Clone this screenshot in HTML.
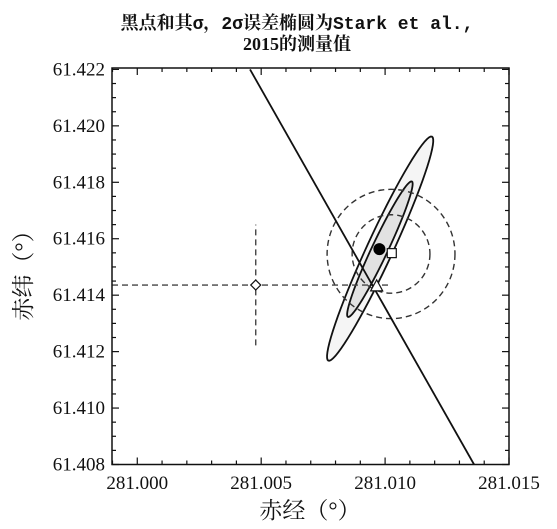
<!DOCTYPE html>
<html><head><meta charset="utf-8"><style>
html,body{margin:0;padding:0;background:#fff;}
svg{display:block;}
text{font-family:"Liberation Serif","Noto Serif CJK SC",serif;fill:#111;}
</style></head><body>
<svg id="chart" width="557" height="529" viewBox="0 0 557 529" xmlns="http://www.w3.org/2000/svg">
<text x="297" y="29" font-size="18" text-anchor="middle" font-weight="bold" style="font-family:'Liberation Mono','Noto Serif CJK SC',serif">黑点和其σ，2σ误差椭圆为Stark et al.,</text>
<text x="297" y="50" font-size="18" text-anchor="middle" font-weight="bold">2015的测量值</text>
<g id="plot"></g>
<text x="310" y="518" font-size="23" text-anchor="middle">赤经（°）</text>
<text transform="translate(31,270) rotate(-90)" font-size="23" text-anchor="middle">赤纬（°）</text>
</svg>
<script>
const xTicks=[281.000,281.005,281.010,281.015];
const xTickLabels=["281.000","281.005","281.010","281.015"];
const yTicks=[61.408,61.410,61.412,61.414,61.416,61.418,61.420,61.422];
const yTickLabels=["61.408","61.410","61.412","61.414","61.416","61.418","61.420","61.422"];
const xDomain=[280.99898,281.015];
const yDomain=[61.408,61.42205];
const lineX=[281.00455,281.01359];
const lineY=[61.42200,61.40800];
const outerEllipse=[281.0098,61.41565,281.01189,61.41962];
const innerEllipse=[281.00979,61.41563,281.01108,61.41803];
const circleCenter=[281.01024,61.41546];
const circleRx=[0.00258,0.00157];
const circleRy=[0.00229,0.00139];
const dotPoint=[281.00977,61.41563];
const squarePoint=[281.01027,61.41549];
const trianglePoint=[281.00966,61.41433];
const diamondPoint=[281.00478,61.41436];
const diamondErrY=[61.41222,61.41650];
const diamondErrXEnd=281.0102;

const L=112,R=509,T=68,B=464.5;
const sx=v=>L+(v-xDomain[0])/(xDomain[1]-xDomain[0])*(R-L);
const sy=v=>B-(v-yDomain[0])/(yDomain[1]-yDomain[0])*(B-T);
const NS="http://www.w3.org/2000/svg";
const svg=document.getElementById('chart');
const plot=document.getElementById('plot');
function mk(tag,attrs,parent){const e=document.createElementNS(NS,tag);for(const k in attrs)e.setAttribute(k,attrs[k]);(parent||plot).appendChild(e);return e;}

const clip=mk('clipPath',{id:'pc'},svg);
mk('rect',{x:L,y:T,width:R-L,height:B-T},clip);
const g=mk('g',{'clip-path':'url(#pc)'});



function ellipse(p,minorPx,fill,name){
  const cx=sx(p[0]),cy=sy(p[1]),tx=sx(p[2])-cx,ty=sy(p[3])-cy;
  const len=Math.hypot(tx,ty),nx=-ty/len*minorPx,ny=tx/len*minorPx;
  let d='';
  for(let i=0;i<=72;i++){const t=i/72*2*Math.PI;const x=cx+Math.cos(t)*tx+Math.sin(t)*nx,y=cy+Math.cos(t)*ty+Math.sin(t)*ny;d+=(i?'L':'M')+x.toFixed(2)+','+y.toFixed(2);}
  const e=mk('path',{d:d+'Z',fill:fill,stroke:'#111','stroke-width':1.8},g);
  
  
}
ellipse(outerEllipse,13,'#f5f5f5','ellipse-2sigma');
ellipse(innerEllipse,8,'#e2e2e2','ellipse-1sigma');

for(let i=0;i<2;i++){
  const c=mk('ellipse',{cx:sx(circleCenter[0]),cy:sy(circleCenter[1]),rx:sx(circleCenter[0]+circleRx[i])-sx(circleCenter[0]),ry:sy(circleCenter[1])-sy(circleCenter[1]+circleRy[i]),fill:'none',stroke:'#333','stroke-width':1.4,'stroke-dasharray':'6,4'},g);
  
  
}
const hl=mk('line',{x1:L,y1:sy(diamondPoint[1]),x2:sx(diamondErrXEnd),y2:sy(diamondPoint[1]),stroke:'#444','stroke-width':1.4,'stroke-dasharray':'6,4'},g);


const vl=mk('line',{x1:sx(diamondPoint[0]),y1:sy(diamondErrY[0]),x2:sx(diamondPoint[0]),y2:sy(diamondErrY[1]),stroke:'#444','stroke-width':1.4,'stroke-dasharray':'6,4'},g);



const sl=mk('line',{x1:sx(lineX[0]),y1:sy(lineY[0]),x2:sx(lineX[1]),y2:sy(lineY[1]),stroke:'#111','stroke-width':1.8},g);



const dot=mk('circle',{cx:sx(dotPoint[0]),cy:sy(dotPoint[1]),r:6,fill:'#000'},g);


const sq=mk('rect',{x:sx(squarePoint[0])-4.5,y:sy(squarePoint[1])-4.5,width:9,height:9,fill:'#fff',stroke:'#111','stroke-width':1.2},g);


const tx=sx(trianglePoint[0]),ty=sy(trianglePoint[1]);
const tri=mk('polygon',{points:`${tx},${ty-6} ${tx-6},${ty+5} ${tx+6},${ty+5}`,fill:'#fff',stroke:'#111','stroke-width':1.2},g);


const dx=sx(diamondPoint[0]),dy=sy(diamondPoint[1]);
const dia=mk('polygon',{points:`${dx},${dy-5} ${dx+5},${dy} ${dx},${dy+5} ${dx-5},${dy}`,fill:'#fff',stroke:'#111','stroke-width':1.2},g);



const frame=mk('rect',{x:L,y:T,width:R-L,height:B-T,fill:'none',stroke:'#111','stroke-width':1.5});



for(let k=-1;k<=15;k++){
  const x=sx(281+k*0.001);
  if(x<L-0.5||x>R+0.5)continue;
  const len=(k%5===0)?7:4;
  const t1=mk('line',{x1:x,y1:B,x2:x,y2:B-len,stroke:'#111','stroke-width':1.2});
  
  
  const t2=mk('line',{x1:x,y1:T,x2:x,y2:T+len,stroke:'#111','stroke-width':1.2});
  
  
}
for(let k=0;k<=28;k++){
  const v=61.408+k*0.0005,y=sy(v),len=(k%4===0)?7:4;
  const t1=mk('line',{x1:L,y1:y,x2:L+len,y2:y,stroke:'#111','stroke-width':1.2});
  
  
  const t2=mk('line',{x1:R,y1:y,x2:R-len,y2:y,stroke:'#111','stroke-width':1.2});
  
  
}
xTicks.forEach((v,i)=>{
  const t=mk('text',{x:sx(v),y:489,'font-size':19,'text-anchor':'middle'});
  t.textContent=xTickLabels[i];
  
  
});
yTicks.forEach((v,i)=>{
  const t=mk('text',{x:105,y:sy(v)+6,'font-size':19,'text-anchor':'end'});
  t.textContent=yTickLabels[i];
  
  
});
</script>
</body></html>
